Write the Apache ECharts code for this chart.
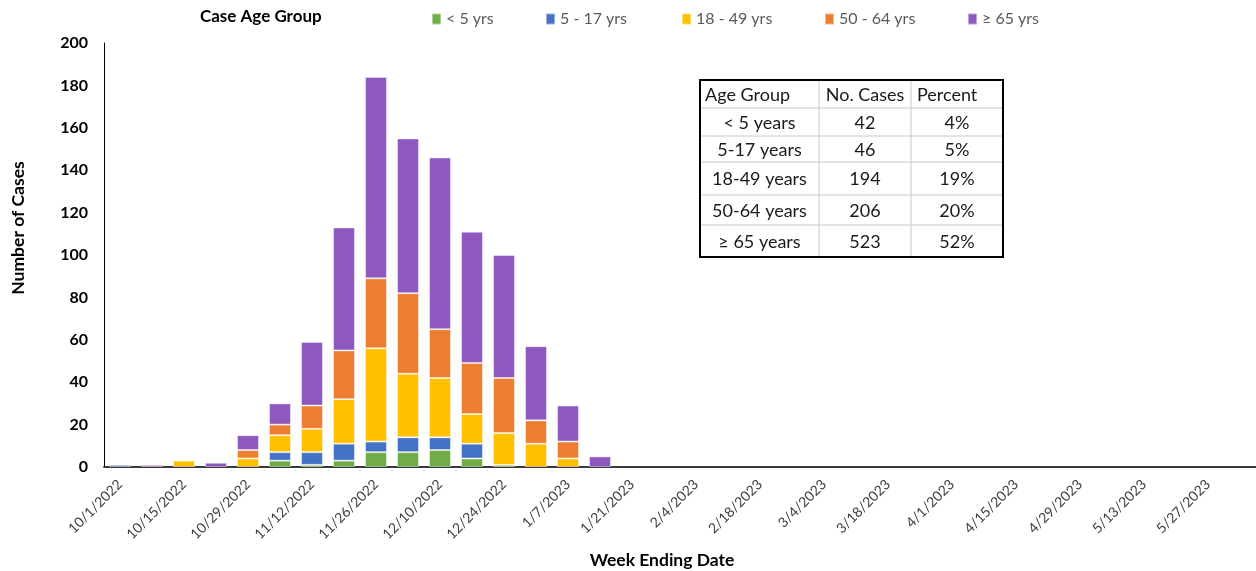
<!DOCTYPE html>
<html>
<head>
<meta charset="utf-8">
<script src="https://cdn.jsdelivr.net/npm/echarts@6/dist/echarts.min.js"></script>
<style>
html,body{margin:0;padding:0;background:#fff;}
#chart{width:1256px;height:571px;}
</style>
</head>
<body>
<div id="chart"></div>
<script>
// ---- data ----
const categories = ['10/1/2022','10/8/2022','10/15/2022','10/22/2022','10/29/2022','11/5/2022','11/12/2022','11/19/2022','11/26/2022','12/3/2022','12/10/2022','12/17/2022','12/24/2022','12/31/2022','1/7/2023','1/14/2023','1/21/2023','1/28/2023','2/4/2023','2/11/2023','2/18/2023','2/25/2023','3/4/2023','3/11/2023','3/18/2023','3/25/2023','4/1/2023','4/8/2023','4/15/2023','4/22/2023','4/29/2023','5/6/2023','5/13/2023','5/20/2023','5/27/2023','6/3/2023'];
const seriesNames = ['< 5 yrs','5 - 17 yrs','18 - 49 yrs','50 - 64 yrs','\u2265 65 yrs'];
const under5   = [null,null,null,null,null,3,1,3,7,7,8,4,1,null,null,null,null,null,null,null,null,null,null,null,null,null,null,null,null,null,null,null,null,null,null,null];
const age5to17 = [1,null,null,null,null,4,6,8,5,7,6,7,null,null,null,null,null,null,null,null,null,null,null,null,null,null,null,null,null,null,null,null,null,null,null,null];
const age18to49= [null,null,3,null,4,8,11,21,44,30,28,14,15,11,4,null,null,null,null,null,null,null,null,null,null,null,null,null,null,null,null,null,null,null,null,null];
const age50to64= [null,null,null,null,4,5,11,23,33,38,23,24,26,11,8,null,null,null,null,null,null,null,null,null,null,null,null,null,null,null,null,null,null,null,null,null];
const age65plus= [null,1,null,2,7,10,30,58,95,73,81,62,58,35,17,5,null,null,null,null,null,null,null,null,null,null,null,null,null,null,null,null,null,null,null,null];
const colors = ['#70AD47','#4472C4','#FFC000','#ED7D31','#8E58BE'];
const yTicks = {min:0, max:200, interval:20};
const tableHeader = ['Age Group','No. Cases','Percent'];
const tableRows = [
  ['< 5 years','42','4%'],
  ['5-17 years','46','5%'],
  ['18-49 years','194','19%'],
  ['50-64 years','206','20%'],
  ['\u2265 65 years','523','52%']
];

// ---- layout ----
const FONT = 'Lato, "Open Sans", sans-serif';
const seriesData = [under5, age5to17, age18to49, age50to64, age65plus];
const legendX = [431, 545, 681, 824, 967];

const series = seriesNames.map((n,i)=>({
  name:n, type:'bar', stack:'total', data:seriesData[i], barWidth:22,
  itemStyle:{color:colors[i], borderColor:'rgba(255,255,255,0.45)', borderWidth:1},
  emphasis:{disabled:true}
}));

const legends = seriesNames.map((n,i)=>({
  data:[n], left:legendX[i], top:11, itemWidth:9, itemHeight:11, icon:'rect',
  textStyle:{color:'#595959', fontFamily:FONT, fontSize:16}, itemGap:5, padding:0
}));

// table graphic
const tx = [700, 819, 911, 1003];
const ty = [80, 108, 136, 162, 195, 225, 257];
const g = [];
g.push({type:'rect', shape:{x:tx[0], y:ty[0], width:tx[3]-tx[0], height:ty[6]-ty[0]}, style:{fill:'#fff', stroke:'none'}, z:10});
for (let r=1;r<ty.length-1;r++) g.push({type:'line', shape:{x1:tx[0],y1:ty[r],x2:tx[3],y2:ty[r]}, style:{stroke:'#c8c8c8', lineWidth:1}, z:11});
for (let c=1;c<tx.length-1;c++) g.push({type:'line', shape:{x1:tx[c],y1:ty[0],x2:tx[c],y2:ty[6]}, style:{stroke:'#c8c8c8', lineWidth:1}, z:11});
g.push({type:'rect', shape:{x:tx[0], y:ty[0], width:tx[3]-tx[0], height:ty[6]-ty[0]}, style:{fill:'none', stroke:'#000', lineWidth:2}, z:12});
const headerX = [705, 865, 917];
const headerAlign = ['left','center','left'];
tableHeader.forEach((t,c)=>g.push({type:'text', x:headerX[c], y:(ty[0]+ty[1])/2+1, style:{text:t, fill:'#1a1a1a', font:'18px '+FONT, textAlign:headerAlign[c], textVerticalAlign:'middle'}, z:13}));
tableRows.forEach((row,r)=>row.forEach((t,c)=>g.push({type:'text', x:(tx[c]+tx[c+1])/2, y:(ty[r+1]+ty[r+2])/2+1, style:{text:t, fill:'#1a1a1a', font:'18px '+FONT, textAlign:'center', textVerticalAlign:'middle'}, z:13})));
// titles
g.push({type:'text', x:200, y:17, style:{text:'Case Age Group', fill:'#000', font:'bold 17px '+FONT, textAlign:'left', textVerticalAlign:'middle'}});
g.push({type:'text', x:662, y:560, style:{text:'Week Ending Date', fill:'#000', font:'bold 17.5px '+FONT, textAlign:'center', textVerticalAlign:'middle'}});
g.push({type:'text', x:18, y:228, rotation:Math.PI/2, style:{text:'Number of Cases', fill:'#000', font:'bold 17.5px '+FONT, textAlign:'center', textVerticalAlign:'middle'}});

const chart = echarts.init(document.getElementById('chart'), null, {renderer:'canvas'});
chart.setOption({
  animation:false,
  backgroundColor:'#fff',
  grid:{left:104, right:0, top:43, bottom:104, containLabel:false, outerBoundsMode:'none'},
  legend:legends,
  xAxis:{
    type:'category', data:categories, boundaryGap:true,
    axisLine:{show:true, lineStyle:{color:'#3a3a3a', width:2}},
    axisTick:{show:false},
    axisLabel:{interval:1, rotate:45, margin:15, color:'#404040', fontFamily:FONT, fontSize:14, hideOverlap:false}
  },
  yAxis:{
    type:'value', min:yTicks.min, max:yTicks.max, interval:yTicks.interval,
    axisLine:{show:true, lineStyle:{color:'#000', width:1}},
    axisTick:{show:false},
    splitLine:{show:false},
    axisLabel:{color:'#000', fontFamily:FONT, fontSize:16, fontWeight:'bold', margin:16}
  },
  series:series,
  graphic:g
});
</script>
</body>
</html>
